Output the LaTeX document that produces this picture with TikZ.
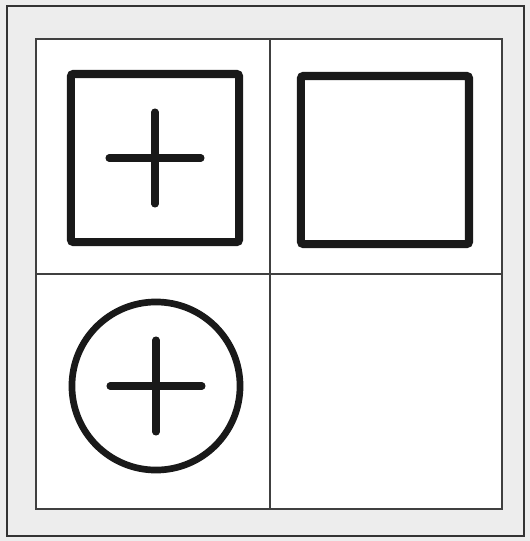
\documentclass[tikz,border=0pt]{standalone}
\usepackage{tikz}
\usetikzlibrary{calc,positioning}

\begin{document}
\begin{tikzpicture}[x=0.01cm,y=-0.01cm,
    symbox/.style={draw=black!90,line width=2.3pt,rounded corners=0.7pt,minimum size=1.68cm,inner sep=0pt},
    symcirc/.style={circle,draw=black!90,line width=1.9pt,minimum size=1.68cm,inner sep=0pt},
    crossline/.style={draw=black!90,line width=2pt,line cap=round}]
  % 背景と外枠
  \fill[gray!14] (0,0) rectangle (530,541);
  \useasboundingbox (0,0) rectangle (530,541);
  \draw[line width=0.6pt,black!80] (7,6) rectangle (524,536);
  % 4つの区画
  \fill[white] (36,39) rectangle (502,509);
  \draw[line width=0.45pt,black!75] (36,39) rectangle (502,509);
  \draw[line width=0.45pt,black!75] (270,39) -- (270,509);
  \draw[line width=0.45pt,black!75] (36,274) -- (502,274);
  % 記号
  \node[symbox] (boxA) at (155,158) {};
  \node[symbox] (boxB) at (385,160) {};
  \node[symcirc] (circA) at (156,386) {};
  % 十字
  \foreach \sym in {boxA,circA}{
    \draw[crossline] ($(\sym)+(-46,0)$) -- ($(\sym)+(46,0)$);
    \draw[crossline] ($(\sym)+(0,-46)$) -- ($(\sym)+(0,46)$);
  }
\end{tikzpicture}
\end{document}
